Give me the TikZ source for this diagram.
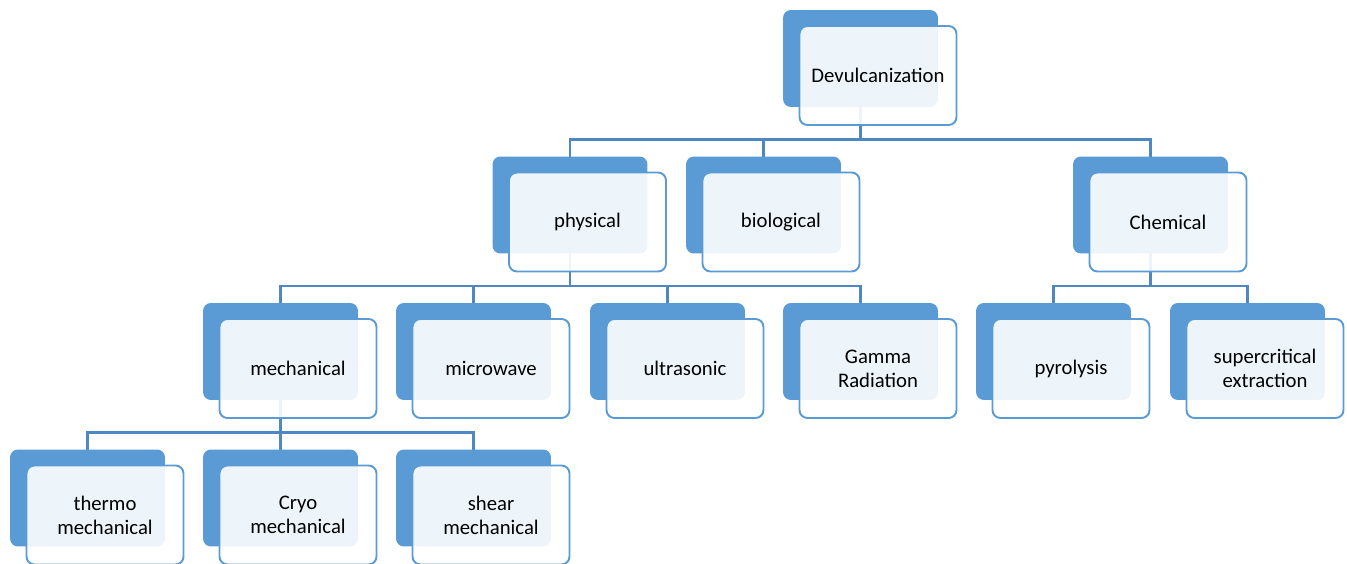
\documentclass[tikz,border=0pt]{standalone}
\usepackage{fontspec}
\setmainfont{Carlito}
\usepackage{tikz}
\pgfdeclarelayer{bg}
\pgfsetlayers{bg,main}
\definecolor{accent}{HTML}{5B9BD5}
\definecolor{linkblue}{HTML}{4F87C2}
\tikzset{
    back/.style={rectangle, rounded corners=4.5pt, fill=accent, draw=none, minimum width=3.1cm, minimum height=1.94cm, inner sep=0mm},
    front/.style={rectangle, rounded corners=4.5pt, fill=white, fill opacity=.9, text opacity=1, draw=accent, line width=1.1pt, minimum width=3.14cm, minimum height=1.98cm, inner sep=0mm, align=center, font=\fontsize{11.8}{13.7}\selectfont},
    link/.style={draw=linkblue, line width=1.3pt}
}
\begin{document}
\begin{tikzpicture}[x=0.02cm, y=-0.02cm]
        \useasboundingbox (0,0) rectangle (1347,564);
        \node[back] (b0) at (860.5, 58.5) {};
        \node[back] (b1) at (570, 205) {};
        \node[back] (b2) at (763.5, 205) {};
        \node[back] (b3) at (1150.5, 205) {};
        \node[back] (b4) at (280.5, 351.5) {};
        \node[back] (b5) at (473.5, 351.5) {};
        \node[back] (b6) at (667.5, 351.5) {};
        \node[back] (b7) at (860.5, 351.5) {};
        \node[back] (b8) at (1053.5, 351.5) {};
        \node[back] (b9) at (1247.5, 351.5) {};
        \node[back] (b10) at (87.5, 498) {};
        \node[back] (b11) at (280.5, 498) {};
        \node[back] (b12) at (473.5, 498) {};
        \node[front] (v0) at ([shift={(17.5,17)}]b0.center) {Devulcanization};
        \node[front] (v1) at ([shift={(17.5,17)}]b1.center) {physical};
        \node[front] (v2) at ([shift={(17.5,17)}]b2.center) {biological};
        \node[front] (v3) at ([shift={(17.5,17)}]b3.center) {Chemical};
        \node[front] (v4) at ([shift={(17.5,17)}]b4.center) {mechanical};
        \node[front] (v5) at ([shift={(17.5,17)}]b5.center) {microwave};
        \node[front] (v6) at ([shift={(17.5,17)}]b6.center) {ultrasonic};
        \node[front] (v7) at ([shift={(17.5,17)}]b7.center) {Gamma\\Radiation};
        \node[front] (v8) at ([shift={(17.5,17)}]b8.center) {pyrolysis};
        \node[front] (v9) at ([shift={(17.5,17)}]b9.center) {supercritical\\extraction};
        \node[front] (v10) at ([shift={(17.5,17)}]b10.center) {thermo\\mechanical};
        \node[front] (v11) at ([shift={(17.5,17)}]b11.center) {Cryo\\mechanical};
        \node[front] (v12) at ([shift={(17.5,17)}]b12.center) {shear\\mechanical};
        \begin{pgfonlayer}{bg}
                \draw[link] (b0.center) -- ++(0,81) -| (b1.center);
                \draw[link] (b0.center) -- ++(0,81) -| (b2.center);
                \draw[link] (b0.center) -- ++(0,81) -| (b3.center);
                \draw[link] (b1.center) -- ++(0,81) -| (b4.center);
                \draw[link] (b1.center) -- ++(0,81) -| (b5.center);
                \draw[link] (b1.center) -- ++(0,81) -| (b6.center);
                \draw[link] (b1.center) -- ++(0,81) -| (b7.center);
                \draw[link] (b3.center) -- ++(0,81) -| (b8.center);
                \draw[link] (b3.center) -- ++(0,81) -| (b9.center);
                \draw[link] (b4.center) -- ++(0,81) -| (b10.center);
                \draw[link] (b4.center) -- ++(0,81) -| (b11.center);
                \draw[link] (b4.center) -- ++(0,81) -| (b12.center);
        \end{pgfonlayer}
\end{tikzpicture}
\end{document}
